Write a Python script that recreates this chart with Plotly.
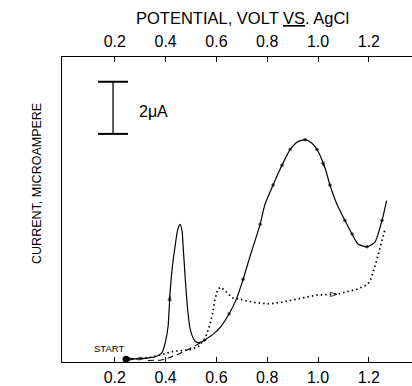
import plotly.graph_objects as go

# Potential (V vs AgCl) and current (microampere)
solid_v = [0.244, 0.28, 0.32, 0.36, 0.385, 0.40, 0.41, 0.417, 0.427, 0.437, 0.447, 0.457,
           0.465, 0.469, 0.478, 0.488, 0.496, 0.504, 0.514, 0.524, 0.54, 0.555, 0.585,
           0.614, 0.65, 0.68, 0.705, 0.732, 0.772, 0.791, 0.823, 0.858, 0.89, 0.92, 0.949,
           0.975, 0.996, 1.028, 1.047, 1.075, 1.106, 1.134, 1.157, 1.193, 1.224, 1.252, 1.27]
solid_i = [0.11, 0.12, 0.14, 0.2, 0.35, 0.8, 1.4, 2.6, 3.7, 4.42, 5.05, 5.28,
           5.0, 4.42, 3.1, 1.89, 1.3, 1.02, 0.82, 0.75, 0.76, 0.85, 1.05,
           1.32, 1.85, 2.45, 3.17, 4.04, 5.28, 6.04, 6.79, 7.55, 8.15, 8.45, 8.53,
           8.4, 8.15, 7.43, 6.79, 6.04, 5.43, 4.91, 4.53, 4.42, 4.6, 5.43, 6.19]

dotted_v = [0.25, 0.30, 0.35, 0.405, 0.437, 0.47, 0.5, 0.53, 0.555, 0.57, 0.583, 0.594,
            0.606, 0.618, 0.63, 0.642, 0.665, 0.693, 0.72, 0.76, 0.811, 0.86, 0.917,
            0.996, 1.075, 1.153, 1.19, 1.205, 1.224, 1.236, 1.25, 1.264]
dotted_i = [0.1, 0.13, 0.2, 0.34, 0.42, 0.44, 0.48, 0.6, 0.9, 1.3, 1.77, 2.4,
            2.8, 2.87, 2.76, 2.64, 2.45, 2.41, 2.34, 2.27, 2.23, 2.3, 2.41,
            2.57, 2.6, 2.79, 2.95, 3.1, 3.66, 4.15, 4.6, 5.1]

dashed_v = [0.33, 0.38, 0.41, 0.457, 0.496, 0.535, 0.56]
dashed_i = [0.06, 0.07, 0.15, 0.33, 0.52, 0.71, 0.85]

tick_vals = [0.2, 0.4, 0.6, 0.8, 1.0, 1.2]
tick_text = ["0.2", "0.4", "0.6", "0.8", "1.0", "1.2"]

# scale bar (2 microampere)
bar_v = 0.193
bar_cap = [0.134, 0.252]
bar_i = [8.75, 10.75]

start_v, start_i = 0.244, 0.11

arrow_pts = {1: "arrow", 2: "arrow", 7: "arrow", 37: "arrow"}
dot_pts = [28, 30, 31, 32, 34, 36, 38, 40, 41, 43, 45, 24, 26]
sym = []
size = []
for k in range(len(solid_v)):
    if k in arrow_pts:
        sym.append("arrow"); size.append(7)
    elif k in dot_pts:
        sym.append("circle"); size.append(3.5)
    else:
        sym.append("circle"); size.append(0)

dsym = ["circle"] * len(dotted_v)
dsize = [0] * len(dotted_v)
dsym[24] = "arrow-open"; dsize[24] = 7

fig = go.Figure()
fig.add_trace(go.Scatter(x=dashed_v, y=dashed_i, mode="lines",
                         line=dict(color="black", width=1.1, dash="6px,4px")))
fig.add_trace(go.Scatter(x=dotted_v, y=dotted_i, mode="lines+markers",
                         line=dict(color="black", width=1.7, dash="1.5px,3px"),
                         marker=dict(symbol=dsym, size=dsize, angleref="previous",
                                     color="black", line=dict(color="black", width=1))))
fig.add_trace(go.Scatter(x=solid_v, y=solid_i, mode="lines+markers",
                         line=dict(color="black", width=1.2, shape="spline", smoothing=0.6),
                         marker=dict(symbol=sym, size=size, angleref="previous", color="black",
                                     line=dict(width=0))))
fig.add_trace(go.Scatter(x=[start_v], y=[start_i], mode="markers",
                         marker=dict(color="black", size=7)))
# scale bar
fig.add_trace(go.Scatter(x=[bar_v, bar_v], y=bar_i, mode="lines",
                         line=dict(color="black", width=1.3)))
for yy in bar_i:
    fig.add_trace(go.Scatter(x=bar_cap, y=[yy, yy], mode="lines",
                             line=dict(color="black", width=2)))
# invisible trace for the top axis
fig.add_trace(go.Scatter(x=tick_vals, y=[0] * len(tick_vals), xaxis="x2", mode="markers",
                         marker=dict(size=0, opacity=0), hoverinfo="skip"))

font = "Liberation Sans, Arial, sans-serif"
fig.update_layout(
    width=412, height=386, showlegend=False,
    margin=dict(l=62, r=0, t=57, b=19),
    paper_bgcolor="white", plot_bgcolor="white",
    font=dict(family=font, color="black", size=14),
    xaxis=dict(range=[-0.008, 1.37], tickvals=tick_vals, ticktext=tick_text,
               ticks="inside", ticklen=5, tickcolor="black", showline=True,
               linecolor="black", linewidth=1.3, showgrid=False, zeroline=False,
               tickfont=dict(size=16), ticklabelstandoff=1),
    xaxis2=dict(range=[-0.008, 1.37], overlaying="x", side="top", anchor="y",
                tickvals=tick_vals, ticktext=tick_text, ticks="inside", ticklen=5,
                tickcolor="black", showline=True, linecolor="black", linewidth=1.3,
                showgrid=False, zeroline=False, tickfont=dict(size=16),
                ticklabelstandoff=2),
    yaxis=dict(range=[0, 11.7], showticklabels=False, ticks="", showline=True,
               linecolor="black", linewidth=1.3, showgrid=False, zeroline=False),
    annotations=[
        dict(text="POTENTIAL, VOLT <u>VS</u>. AgCl", xref="paper", yref="paper",
             x=0.517, y=1.163, showarrow=False, font=dict(size=16.5)),
        dict(text="CURRENT, MICROAMPERE", xref="paper", yref="paper", x=-0.097, y=0.584,
             textangle=-90, showarrow=False, font=dict(size=12.5)),
        dict(text="2μA", x=0.354, y=9.6, xref="x", yref="y", showarrow=False,
             font=dict(size=16)),
        dict(text="START", x=0.177, y=0.5, xref="x", yref="y", showarrow=False,
             font=dict(size=9.5)),
    ],
)
fig.write_html("out.html")
